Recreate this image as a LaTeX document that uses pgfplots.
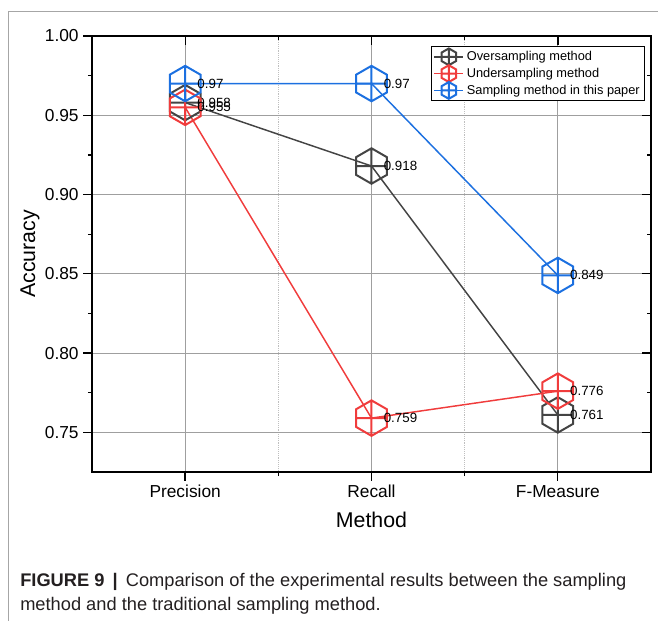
\documentclass[border=0pt]{standalone}
\usepackage{pgfplots}
\pgfplotsset{compat=1.18}
\usepackage{pgfplotstable}
\usepackage{fontspec}
\setmainfont{Liberation Sans}
\definecolor{cgray}{RGB}{68,68,68}
\definecolor{cred}{RGB}{240,60,60}
\definecolor{cblue}{RGB}{28,112,224}
\definecolor{capcol}{RGB}{35,31,32}

\pgfdeclareplotmark{hexplus}{%
  \pgfpathmoveto{\pgfqpointpolar{90}{\pgfplotmarksize}}%
  \pgfpathlineto{\pgfqpointpolar{150}{\pgfplotmarksize}}%
  \pgfpathlineto{\pgfqpointpolar{210}{\pgfplotmarksize}}%
  \pgfpathlineto{\pgfqpointpolar{270}{\pgfplotmarksize}}%
  \pgfpathlineto{\pgfqpointpolar{330}{\pgfplotmarksize}}%
  \pgfpathlineto{\pgfqpointpolar{30}{\pgfplotmarksize}}%
  \pgfpathclose
  \pgfpathmoveto{\pgfqpoint{-0.866\pgfplotmarksize}{0pt}}%
  \pgfpathlineto{\pgfqpoint{0.866\pgfplotmarksize}{0pt}}%
  \pgfpathmoveto{\pgfqpoint{0pt}{-\pgfplotmarksize}}%
  \pgfpathlineto{\pgfqpoint{0pt}{\pgfplotmarksize}}%
  \pgfusepathqstroke
}

\pgfplotstableread{
x y label
1 0.958 0.958
2 0.918 0.918
3 0.761 0.761
}\overs
\pgfplotstableread{
x y label
1 0.955 0.955
2 0.759 0.759
3 0.776 0.776
}\unders
\pgfplotstableread{
x y label
1 0.970 0.97
2 0.970 0.97
3 0.849 0.849
}\ours

\begin{document}
\begin{tikzpicture}
\useasboundingbox (0,0) rectangle (493.5pt,-465.75pt);
\draw[gray!70, line width=0.7pt] (6pt,-465.75pt) -- (6pt,-8.25pt) -- (493.5pt,-8.25pt);

\begin{axis}[
  at={(69pt,-354pt)}, anchor=south west,
  scale only axis, width=419.25pt, height=327pt,
  xmin=0.5, xmax=3.5, ymin=0.725, ymax=1.0,
  xtick={1,2,3}, xticklabels={Precision,Recall,F-Measure},
  minor xtick={1.5,2.5},
  ytick={0.75,0.80,0.85,0.90,0.95,1.00},
  minor ytick={0.775,0.825,0.875,0.925,0.975},
  yticklabel style={/pgf/number format/.cd, fixed, fixed zerofill, precision=2},
  /pgf/number format/assume math mode=true,
  tick label style={font=\fontsize{13}{15}\selectfont},
  xtick pos=bottom, ytick pos=left,
  tick align=outside,
  major tick length=6.5pt, minor tick length=3pt,
  every tick/.style={black, line width=1pt},
  axis line style={black, line width=1.1pt},
  xmajorgrids, ymajorgrids, xminorgrids,
  major grid style={gray!75, line width=0.6pt},
  minor grid style={gray!50, densely dotted, line width=0.5pt},
  xlabel={Method}, ylabel={Accuracy},
  label style={font=\fontsize{16}{18}\selectfont},
  xlabel style={at={(axis description cs:0.5,-0.11)}, anchor=center},
  ylabel style={at={(axis description cs:-0.111,0.5)}, anchor=center, rotate=0},
  clip=false,
  mark size=13.3pt,
  legend style={at={(0.989,0.977)}, anchor=north east, draw=black, line width=0.6pt,
    font=\fontsize{9.6}{11}\selectfont, inner sep=1.5pt, row sep=0pt, fill=white},
  legend cell align=left,
  nodes near coords,
  point meta=explicit symbolic,
  every node near coord/.append style={anchor=west, xshift=8.5pt, inner sep=0pt, text=black,
    font=\fontsize{10}{12}\selectfont},
]
\addplot[cgray, line width=1.1pt, mark=hexplus, mark options={solid, line width=1.5pt},
  legend image code/.code={%
    \draw[cgray, line width=1.1pt] (0pt,0pt) -- (22pt,0pt);
    \draw[cgray, line width=0.9pt] plot[mark=hexplus, mark size=6.3pt] coordinates {(11pt,0pt)};}]
  table[x=x, y=y, meta=label] {\overs};
\addlegendentry{Oversampling method}
\addplot[cred, line width=1.1pt, mark=hexplus, mark options={solid, line width=1.5pt},
  legend image code/.code={%
    \draw[cred, line width=1.1pt] (0pt,0pt) -- (22pt,0pt);
    \draw[cred, line width=0.9pt] plot[mark=hexplus, mark size=6.3pt] coordinates {(11pt,0pt)};}]
  table[x=x, y=y, meta=label] {\unders};
\addlegendentry{Undersampling method}
\addplot[cblue, line width=1.1pt, mark=hexplus, mark options={solid, line width=1.5pt},
  legend image code/.code={%
    \draw[cblue, line width=1.1pt] (0pt,0pt) -- (22pt,0pt);
    \draw[cblue, line width=0.9pt] plot[mark=hexplus, mark size=6.3pt] coordinates {(11pt,0pt)};}]
  table[x=x, y=y, meta=label] {\ours};
\addlegendentry{Sampling method in this paper}
\end{axis}

\begin{axis}[
  at={(69pt,-354pt)}, anchor=south west,
  scale only axis, width=419.25pt, height=327pt,
  xmin=0.5, xmax=3.5, ymin=0.725, ymax=1.0,
  xtick={1,2,3}, minor xtick={1.5,2.5},
  ytick={0.75,0.80,0.85,0.90,0.95,1.00},
  minor ytick={0.775,0.825,0.875,0.925,0.975},
  xticklabels={}, yticklabels={},
  xtick pos=right, ytick pos=right,
  tick align=inside,
  major tick length=6.5pt, minor tick length=3pt,
  every tick/.style={black, line width=1pt},
  axis line style={black, line width=1.1pt},
]
\end{axis}

\node[anchor=base west, inner sep=0pt, text=capcol, font=\fontsize{13.7}{16}\selectfont]
  at (15pt,-440pt) {\textbf{FIGURE 9 \,|}\, Comparison of the experimental results between the sampling};
\node[anchor=base west, inner sep=0pt, text=capcol, font=\fontsize{13.7}{16}\selectfont]
  at (15pt,-458pt) {method and the traditional sampling method.};
\end{tikzpicture}
\end{document}
